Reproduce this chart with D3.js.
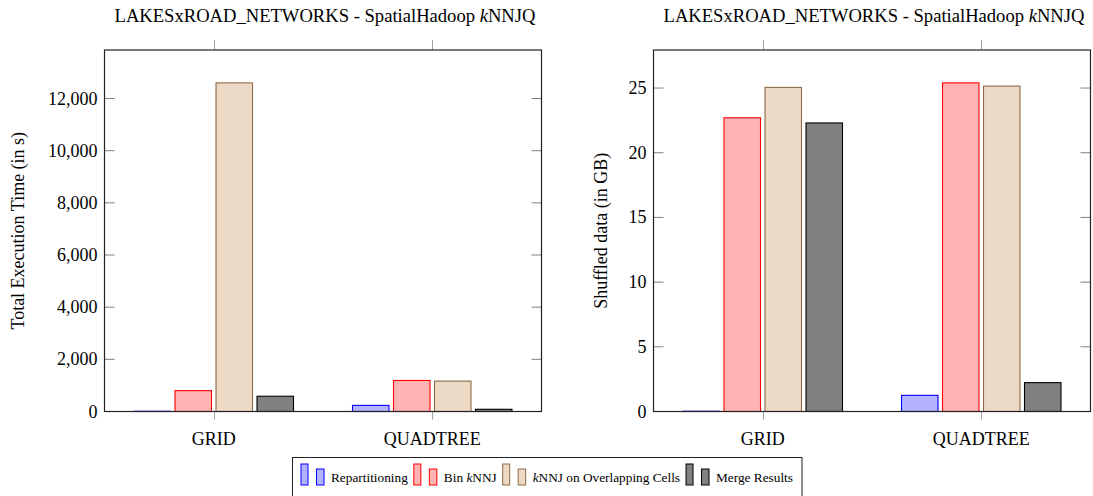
<!DOCTYPE html>
<meta charset="utf-8">
<head>
<title></title>
<script src="https://d3js.org/d3.v7.min.js"></script>
<style>
  body { margin: 0; background: #fff; }
  svg text { font-family: "Liberation Serif", "DejaVu Serif", serif; fill: #000; }
  .tick-lbl { font-size: 18px; }
  .title { font-size: 18.6px; }
  .ylabel { font-size: 18px; }
  .leg { font-size: 13.3px; }
</style>
</head>
<body>
<div id="chart"></div>
<script>
// data
var categories = ["GRID", "QUADTREE"];
var seriesNames = ["Repartitioning", "Bin kNNJ", "kNNJ on Overlapping Cells", "Merge Results"];
var execTime = [          // seconds, per series, per category
  [8, 235],
  [800, 1190],
  [12600, 1165],
  [585, 85]
];
var shuffled = [          // GB
  [0.02, 1.25],
  [22.7, 25.4],
  [25.05, 25.15],
  [22.3, 2.23]
];
var timeTicks = [0, 2000, 4000, 6000, 8000, 10000, 12000];
var shuffleTicks = [0, 5, 10, 15, 20, 25];

var fills = ["#b3b3ff", "#ffb3b3", "#ecd9c6", "#808080"];
var strokes = ["#0000ff", "#ff0000", "#8f6b47", "#000000"];

var W = 1093, H = 496;
var svg = d3.select("#chart").append("svg")
    .attr("width", W).attr("height", H);

var plotTop = 50, plotBottom = 411.5, plotW = 437;

function drawPanel(x0, values, ticks, fmt, ylabel, ylabelX) {
  var g = svg.append("g");
  var maxV = d3.max(values, function(s) { return d3.max(s); });
  var y = d3.scaleLinear().domain([0, maxV * 1.1]).range([plotBottom, plotTop]);
  var x = d3.scaleLinear().domain([-0.5, 1.5]).range([x0, x0 + plotW]);
  var xs = d3.scaleBand().domain(d3.range(seriesNames.length))
      .range([-82, 82]).paddingInner(0.11).paddingOuter(0.055);

  // bars
  values.forEach(function(s, si) {
    g.append("g").selectAll("rect")
      .data(s)
      .enter().append("rect")
        .attr("x", function(d, ci) { return x(ci) + xs(si); })
        .attr("y", function(d) { return y(d); })
        .attr("width", xs.bandwidth())
        .attr("height", function(d) { return Math.max(0, plotBottom - y(d)); })
        .attr("fill", fills[si])
        .attr("stroke", strokes[si])
        .attr("stroke-width", 1.1);
  });

  // y ticks on both sides, inward
  ticks.forEach(function(t) {
    var yy = y(t);
    g.append("line").attr("x1", x0).attr("x2", x0 + 10).attr("y1", yy).attr("y2", yy)
      .attr("stroke", "#808080");
    g.append("line").attr("x1", x0 + plotW - 10).attr("x2", x0 + plotW).attr("y1", yy).attr("y2", yy)
      .attr("stroke", "#808080");
    g.append("text").attr("class", "tick-lbl")
      .attr("x", x0 - 7).attr("y", yy + 6)
      .attr("text-anchor", "end")
      .text(fmt(t));
  });

  // x ticks, outside at top and bottom
  categories.forEach(function(c, ci) {
    var xx = Math.round(x(ci)) + 0.5;
    g.append("line").attr("x1", xx).attr("x2", xx).attr("y1", plotTop - 10).attr("y2", plotTop)
      .attr("stroke", "#a0a0a0");
    g.append("line").attr("x1", xx).attr("x2", xx).attr("y1", plotBottom).attr("y2", plotBottom + 8)
      .attr("stroke", "#a0a0a0");
    g.append("text").attr("class", "tick-lbl")
      .attr("x", x(ci)).attr("y", 445)
      .attr("text-anchor", "middle")
      .text(c);
  });

  // frame
  g.append("rect")
    .attr("x", x0).attr("y", plotTop)
    .attr("width", plotW).attr("height", plotBottom - plotTop)
    .attr("fill", "none").attr("stroke", "#222").attr("stroke-width", 1.2);

  // title
  var tt = g.append("text").attr("class", "title")
    .attr("x", x0 + plotW / 2 + 2).attr("y", 22)
    .attr("text-anchor", "middle");
  tt.append("tspan").text("LAKESxROAD_NETWORKS - SpatialHadoop ");
  tt.append("tspan").style("font-style", "italic").text("k");
  tt.append("tspan").text("NNJQ");

  // y label
  g.append("text").attr("class", "ylabel")
    .attr("transform", "translate(" + ylabelX + "," + ((plotTop + plotBottom) / 2) + ") rotate(-90)")
    .attr("text-anchor", "middle")
    .text(ylabel);
}

drawPanel(104.5, execTime, timeTicks, d3.format(","), "Total Execution Time (in s)", 24);
drawPanel(653.5, shuffled, shuffleTicks, d3.format("d"), "Shuffled data (in GB)", 607);

// legend
var leg = svg.append("g");
var legBox = leg.append("rect")
  .attr("x", 292.5).attr("y", 457.5).attr("height", 40)
  .attr("fill", "#fff").attr("stroke", "#222");
var lx = 301;
seriesNames.forEach(function(name, si) {
  leg.append("rect").attr("x", lx).attr("y", 464).attr("width", 7).attr("height", 21)
    .attr("fill", fills[si]).attr("stroke", strokes[si]);
  leg.append("rect").attr("x", lx + 15.5).attr("y", 469).attr("width", 7.5).attr("height", 16)
    .attr("fill", fills[si]).attr("stroke", strokes[si]);
  var t = leg.append("text").attr("class", "leg").attr("x", lx + 30).attr("y", 482);
  var m = name.match(/^(.*?)k(NNJ.*)$/);
  if (m) {
    t.append("tspan").text(m[1]);
    t.append("tspan").style("font-style", "italic").text("k");
    t.append("tspan").text(m[2]);
  } else {
    t.text(name);
  }
  lx = lx + 30 + t.node().getComputedTextLength() + 6;
});
legBox.attr("width", lx - 292.5 + 3);
</script>
</body>
</html>
